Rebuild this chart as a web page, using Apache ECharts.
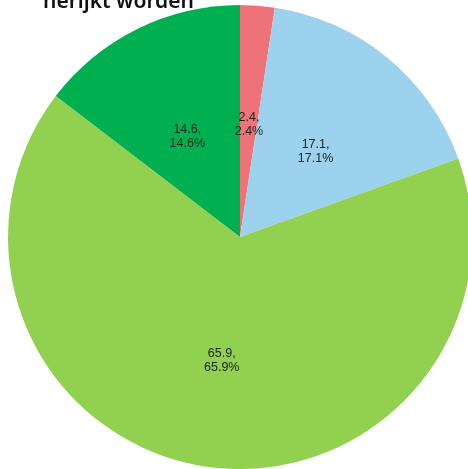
<!DOCTYPE html>
<html>
<head>
<meta charset="utf-8">
<script src="https://cdn.jsdelivr.net/npm/echarts@6/dist/echarts.min.js"></script>
<style>html,body{margin:0;padding:0;background:#fff}#c{width:468px;height:469px}</style>
</head>
<body>
<div id="c"></div>
<script>
const titleText = "herijkt worden";
const categories = ["Categorie 1", "Categorie 2", "Categorie 3", "Categorie 4"];
const values = [2.4, 17.1, 65.9, 14.6];
const colors = ["#EE7379", "#9DD2EE", "#92D050", "#00B050"];

const chart = echarts.init(document.getElementById('c'), null, {renderer: 'canvas'});
chart.setOption({
  animation: false,
  graphic: [{
    type: 'text',
    left: 43,
    top: -8,
    style: {
      text: titleText,
      font: '600 21px "Noto Sans"',
      fill: '#111'
    }
  }],
  series: [{
    type: 'pie',
    center: [240, 237],
    radius: [0, 232],
    startAngle: 90,
    clockwise: true,
    label: {
      show: true,
      position: 'inside',
      formatter: '{sp| }\n{c},\n{d}%',
      color: '#222',
      fontFamily: 'Liberation Sans',
      fontSize: 12.5,
      lineHeight: 14,
      rich: {sp: {fontSize: 1, lineHeight: 12}}
    },
    labelLine: {show: false},
    itemStyle: {borderWidth: 0},
    emphasis: {disabled: true},
    data: categories.map((n, i) => ({name: n, value: values[i], itemStyle: {color: colors[i]}}))
  }]
});
</script>
</body>
</html>
